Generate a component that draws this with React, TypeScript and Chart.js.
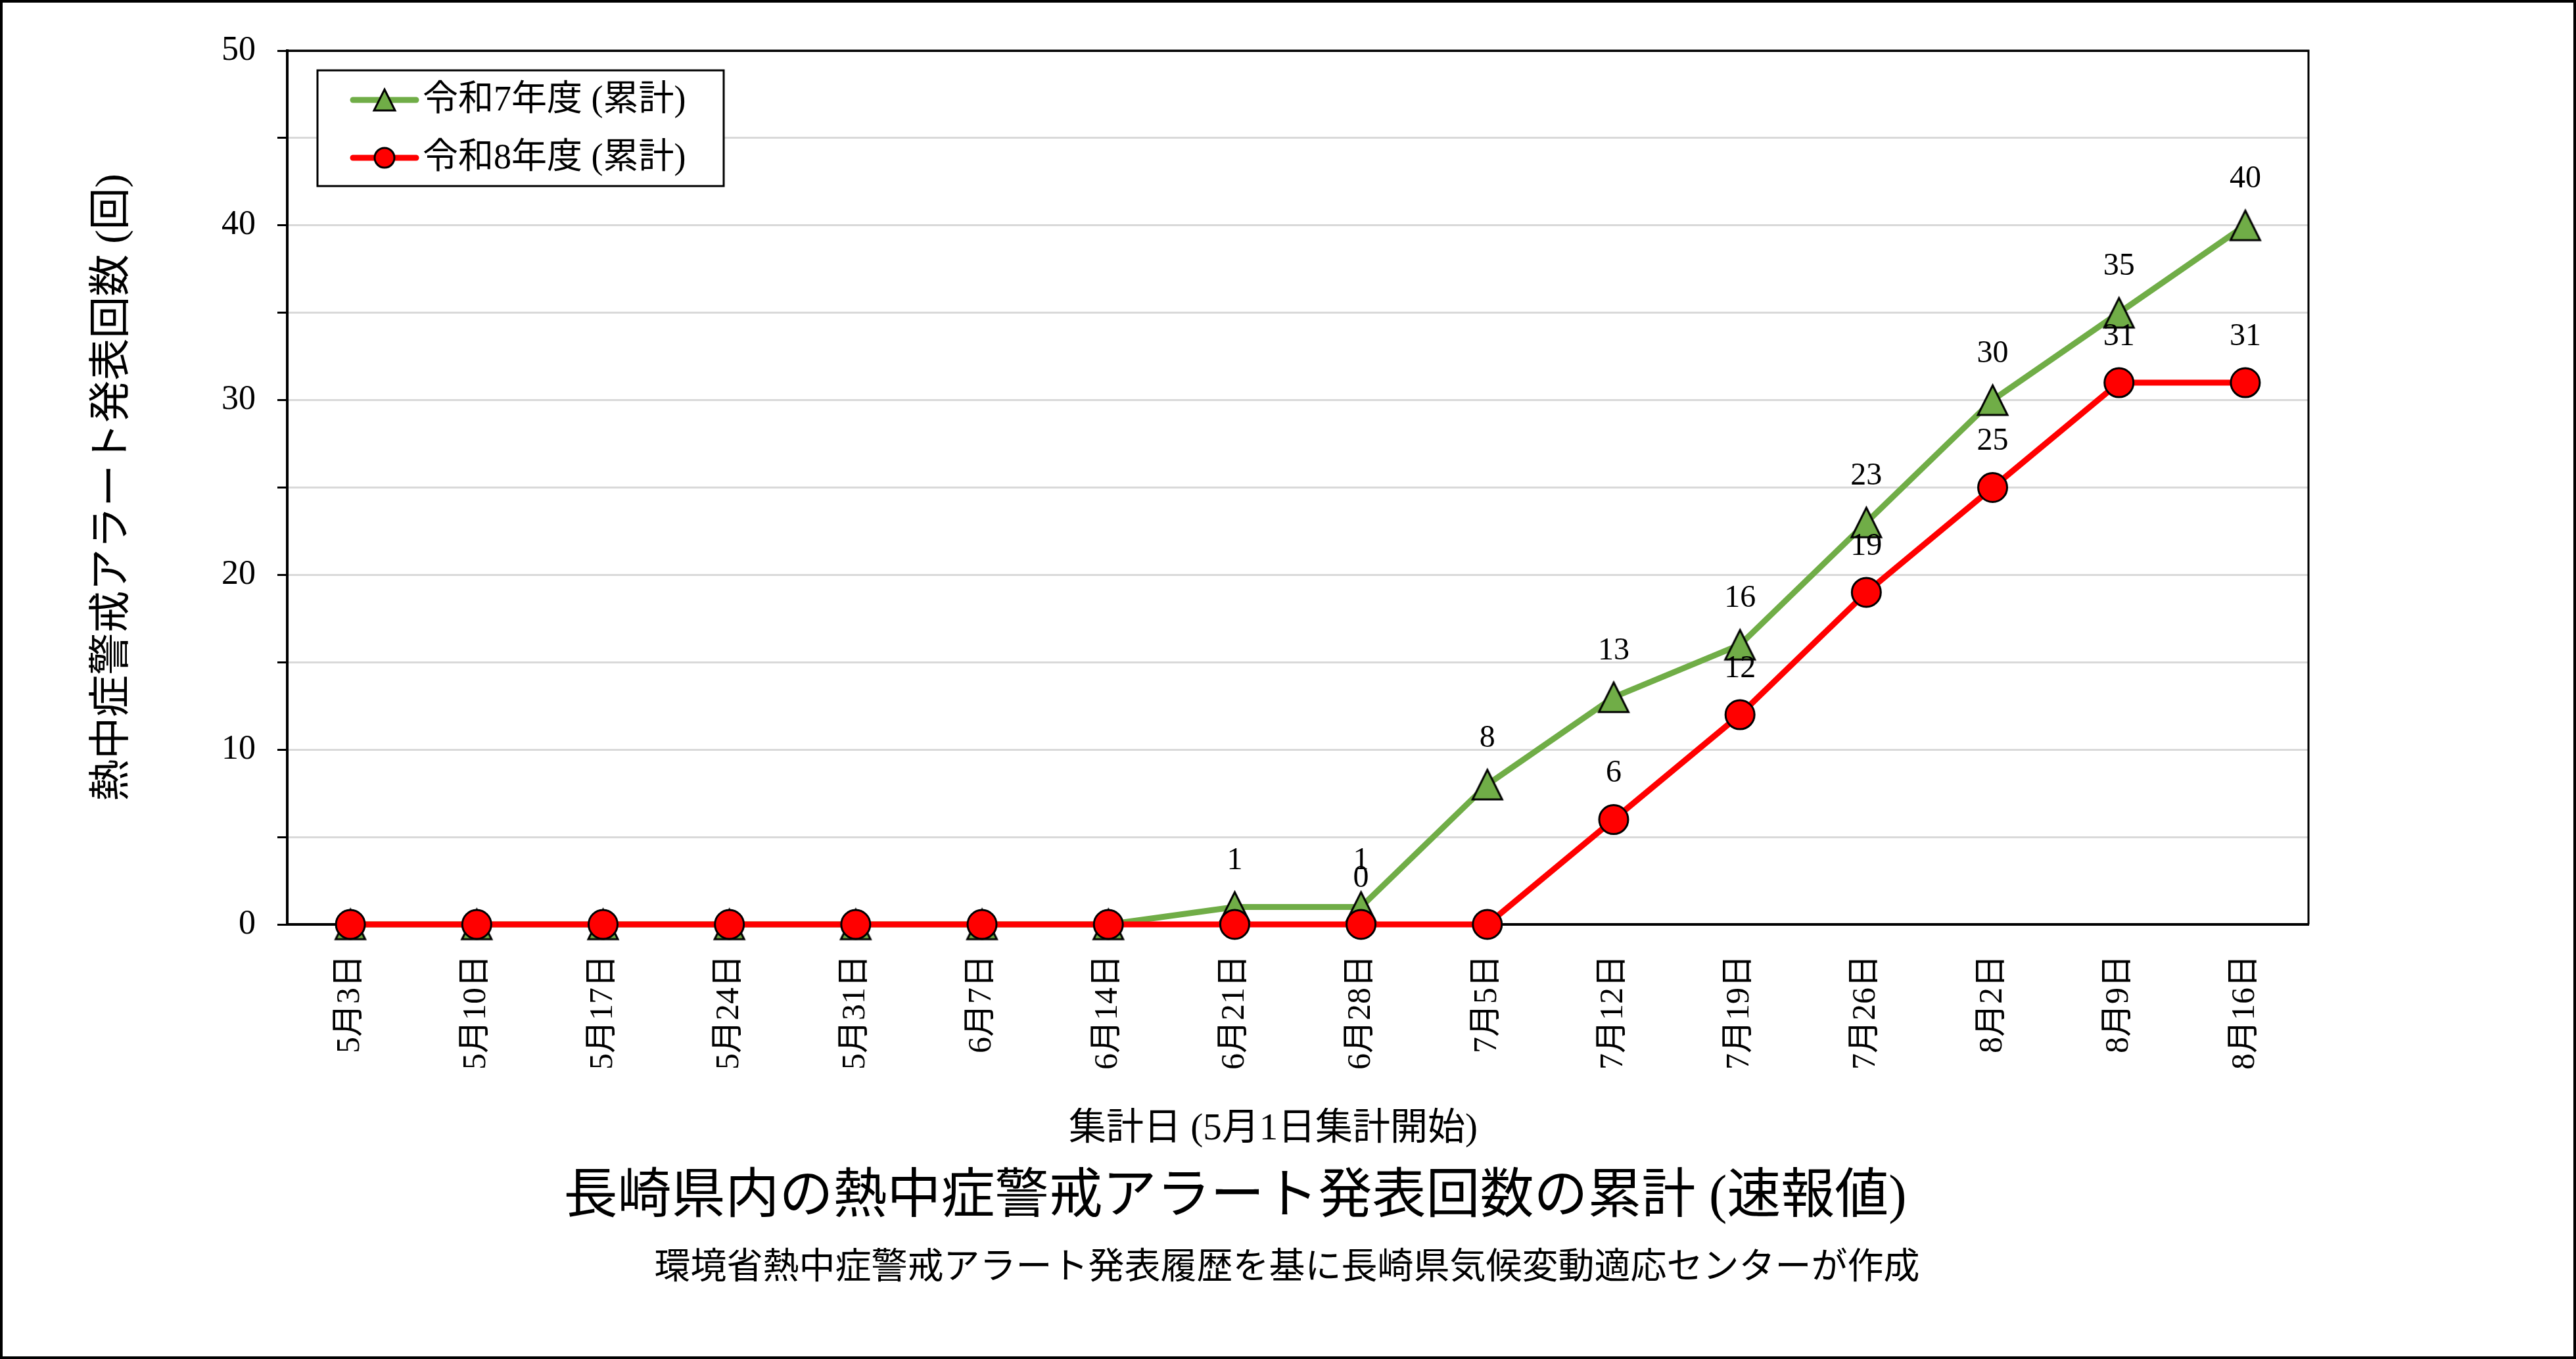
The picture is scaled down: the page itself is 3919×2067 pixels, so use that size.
import React, { useEffect, useRef } from "react";
import { Chart, registerables } from "chart.js";

Chart.register(...registerables);

const categories = [
  "5月3日", "5月10日", "5月17日", "5月24日", "5月31日", "6月7日", "6月14日", "6月21日",
  "6月28日", "7月5日", "7月12日", "7月19日", "7月26日", "8月2日", "8月9日", "8月16日",
];
const seriesR7 = [0, 0, 0, 0, 0, 0, 0, 1, 1, 8, 13, 16, 23, 30, 35, 40];
const seriesR8 = [0, 0, 0, 0, 0, 0, 0, 0, 0, 0, 6, 12, 19, 25, 31, 31];
const labelsShownR7 = [false, false, false, false, false, false, false, true, true, true, true, true, true, true, true, true];
const labelsShownR8 = [false, false, false, false, false, false, false, false, true, false, true, true, true, true, true, true];
const seriesNames = ["令和7年度 (累計)", "令和8年度 (累計)"];
const yTitle = "熱中症警戒アラート発表回数 (回)";
const xTitle = "集計日 (5月1日集計開始)";
const mainTitle = "長崎県内の熱中症警戒アラート発表回数の累計 (速報値)";
const subTitle = "環境省熱中症警戒アラート発表履歴を基に長崎県気候変動適応センターが作成";

const FAMILY = '"Liberation Serif", "Noto Sans CJK JP", serif';
const GREEN = "#70ad47";
const RED = "#ff0000";

function triPath(ctx: CanvasRenderingContext2D, cx: number, cy: number, half: number) {
  ctx.beginPath();
  ctx.moveTo(cx, cy - half);
  ctx.lineTo(cx + half, cy + half);
  ctx.lineTo(cx - half, cy + half);
  ctx.closePath();
}

function makeTriangleImage(half: number, fill: string) {
  const size = Math.ceil(half * 2 + 10);
  const c = document.createElement("canvas");
  c.width = size;
  c.height = size;
  const ctx = c.getContext("2d")!;
  triPath(ctx, size / 2, size / 2, half);
  ctx.fillStyle = fill;
  ctx.fill();
  ctx.strokeStyle = "#000";
  ctx.lineWidth = 3;
  ctx.lineJoin = "miter";
  ctx.stroke();
  return c;
}

const dataLabelPlugin = {
  id: "dataLabels",
  afterDatasetsDraw(chart: any) {
    const ctx = chart.ctx;
    ctx.save();
    ctx.font = `48px ${FAMILY}`;
    ctx.fillStyle = "#000";
    ctx.textAlign = "center";
    ctx.textBaseline = "middle";
    chart.data.datasets.forEach((ds: any, di: number) => {
      const meta = chart.getDatasetMeta(di);
      const shown: boolean[] = ds.labelsShown || [];
      meta.data.forEach((pt: any, i: number) => {
        if (!shown[i]) return;
        ctx.fillText(String(ds.data[i]), pt.x, pt.y - 70);
      });
    });
    ctx.restore();
  },
};

const framePlugin = {
  id: "frame",
  beforeDatasetsDraw(chart: any) {
    const { ctx, chartArea } = chart;
    ctx.save();
    ctx.strokeStyle = "#000";
    ctx.lineWidth = 3;
    ctx.beginPath();
    ctx.moveTo(chartArea.left, chartArea.top);
    ctx.lineTo(chartArea.right, chartArea.top);
    ctx.lineTo(chartArea.right, chartArea.bottom);
    ctx.stroke();
    ctx.restore();
  },
  afterDraw(chart: any) {
    const { ctx, width, height } = chart;
    ctx.save();
    ctx.strokeStyle = "#000";
    ctx.lineWidth = 4;
    ctx.strokeRect(2, 2, width - 4, height - 4);
    ctx.restore();
  },
};

const legendPlugin = {
  id: "boxLegend",
  afterDraw(chart: any) {
    const { ctx, chartArea } = chart;
    const bx = chartArea.left + 46;
    const by = chartArea.top + 30;
    const bw = 618;
    const bh = 176;
    ctx.save();
    ctx.fillStyle = "#fff";
    ctx.fillRect(bx, by, bw, bh);
    ctx.strokeStyle = "#000";
    ctx.lineWidth = 3;
    ctx.strokeRect(bx, by, bw, bh);
    chart.data.datasets.forEach((ds: any, i: number) => {
      const y = by + 45 + i * 88;
      ctx.strokeStyle = ds.borderColor;
      ctx.lineWidth = 9;
      ctx.lineCap = "round";
      ctx.beginPath();
      ctx.moveTo(bx + 54, y);
      ctx.lineTo(bx + 150, y);
      ctx.stroke();
      ctx.lineCap = "butt";
      if (ds.legendMarker === "triangle") {
        triPath(ctx, bx + 102, y, 16);
      } else {
        ctx.beginPath();
        ctx.arc(bx + 102, y, 15, 0, Math.PI * 2);
      }
      ctx.fillStyle = ds.pointBackgroundColor;
      ctx.fill();
      ctx.strokeStyle = "#000";
      ctx.lineWidth = 3;
      ctx.stroke();
      ctx.fillStyle = "#000";
      ctx.font = `54px ${FAMILY}`;
      ctx.textAlign = "left";
      ctx.textBaseline = "middle";
      ctx.fillText(ds.label, bx + 160, y + 2);
    });
    ctx.restore();
  },
};

const titlesPlugin = {
  id: "bottomTitles",
  afterDraw(chart: any) {
    const { ctx } = chart;
    ctx.save();
    ctx.fillStyle = "#000";
    ctx.textAlign = "center";
    ctx.textBaseline = "middle";
    ctx.font = `57px ${FAMILY}`;
    ctx.fillText(xTitle, 1937, 1718);
    ctx.font = `82px ${FAMILY}`;
    ctx.fillText(mainTitle, 1879, 1822);
    ctx.font = `55px ${FAMILY}`;
    ctx.fillText(subTitle, 1958, 1930);
    ctx.restore();
  },
};

export default function App() {
  const canvasRef = useRef<HTMLCanvasElement | null>(null);

  useEffect(() => {
    if (!canvasRef.current) return;
    const triangleImg = makeTriangleImage(22.5, GREEN);
    const chart = new Chart(canvasRef.current, {
      type: "line",
      data: {
        labels: categories,
        datasets: [
          {
            label: seriesNames[0],
            data: seriesR7,
            labelsShown: labelsShownR7,
            legendMarker: "triangle",
            order: 1,
            borderColor: GREEN,
            backgroundColor: GREEN,
            borderWidth: 9,
            pointStyle: triangleImg,
            pointRadius: 24,
            pointHoverRadius: 24,
            pointBackgroundColor: GREEN,
            pointBorderColor: "#000",
            pointBorderWidth: 3,
            tension: 0,
            clip: false,
          } as any,
          {
            label: seriesNames[1],
            data: seriesR8,
            labelsShown: labelsShownR8,
            legendMarker: "circle",
            order: 0,
            borderColor: RED,
            backgroundColor: RED,
            borderWidth: 9,
            pointStyle: "circle",
            pointRadius: 22,
            pointHoverRadius: 22,
            pointBackgroundColor: RED,
            pointBorderColor: "#000",
            pointBorderWidth: 3,
            tension: 0,
            clip: false,
          } as any,
        ],
      },
      options: {
        animation: false,
        responsive: true,
        maintainAspectRatio: false,
        events: [],
        layout: { padding: { top: 77, right: 407, bottom: 0, left: 0 } },
        plugins: {
          legend: { display: false },
          tooltip: { enabled: false },
          title: { display: false },
        },
        scales: {
          x: {
            type: "category",
            offset: true,
            grid: { display: true, drawOnChartArea: false, drawTicks: false },
            border: { display: true, color: "#000", width: 4 },
            ticks: {
              autoSkip: false,
              minRotation: 90,
              maxRotation: 90,
              padding: 46,
              color: "#000",
              font: { family: FAMILY, size: 50 },
            },
            afterFit(scale: any) {
              scale.height = 661;
            },
          },
          y: {
            min: 0,
            max: 50,
            grid: {
              color: (c: any) => (c.tick && c.tick.value === 50 ? "#000" : "#d9d9d9"),
              lineWidth: 3,
              tickLength: 15,
              tickColor: "#000",
              tickWidth: 3,
            },
            border: { display: true, color: "#000", width: 4 },
            ticks: {
              stepSize: 5,
              padding: 33,
              color: "#000",
              font: { family: FAMILY, size: 52 },
              callback: (v: any) => (Number(v) % 10 === 0 ? String(v) : ""),
            },
            title: {
              display: true,
              text: yTitle,
              color: "#000",
              font: { family: FAMILY, size: 64 },
              padding: { top: 134, bottom: 0 },
            },
            afterFit(scale: any) {
              scale.width = 437;
            },
          },
        },
      },
      plugins: [framePlugin, dataLabelPlugin, legendPlugin, titlesPlugin],
    } as any);
    return () => chart.destroy();
  }, []);

  return (
    <div style={{ position: "absolute", left: 0, top: 0, width: 3919, height: 2067, background: "#fff" }}>
      <canvas ref={canvasRef} />
    </div>
  );
}
